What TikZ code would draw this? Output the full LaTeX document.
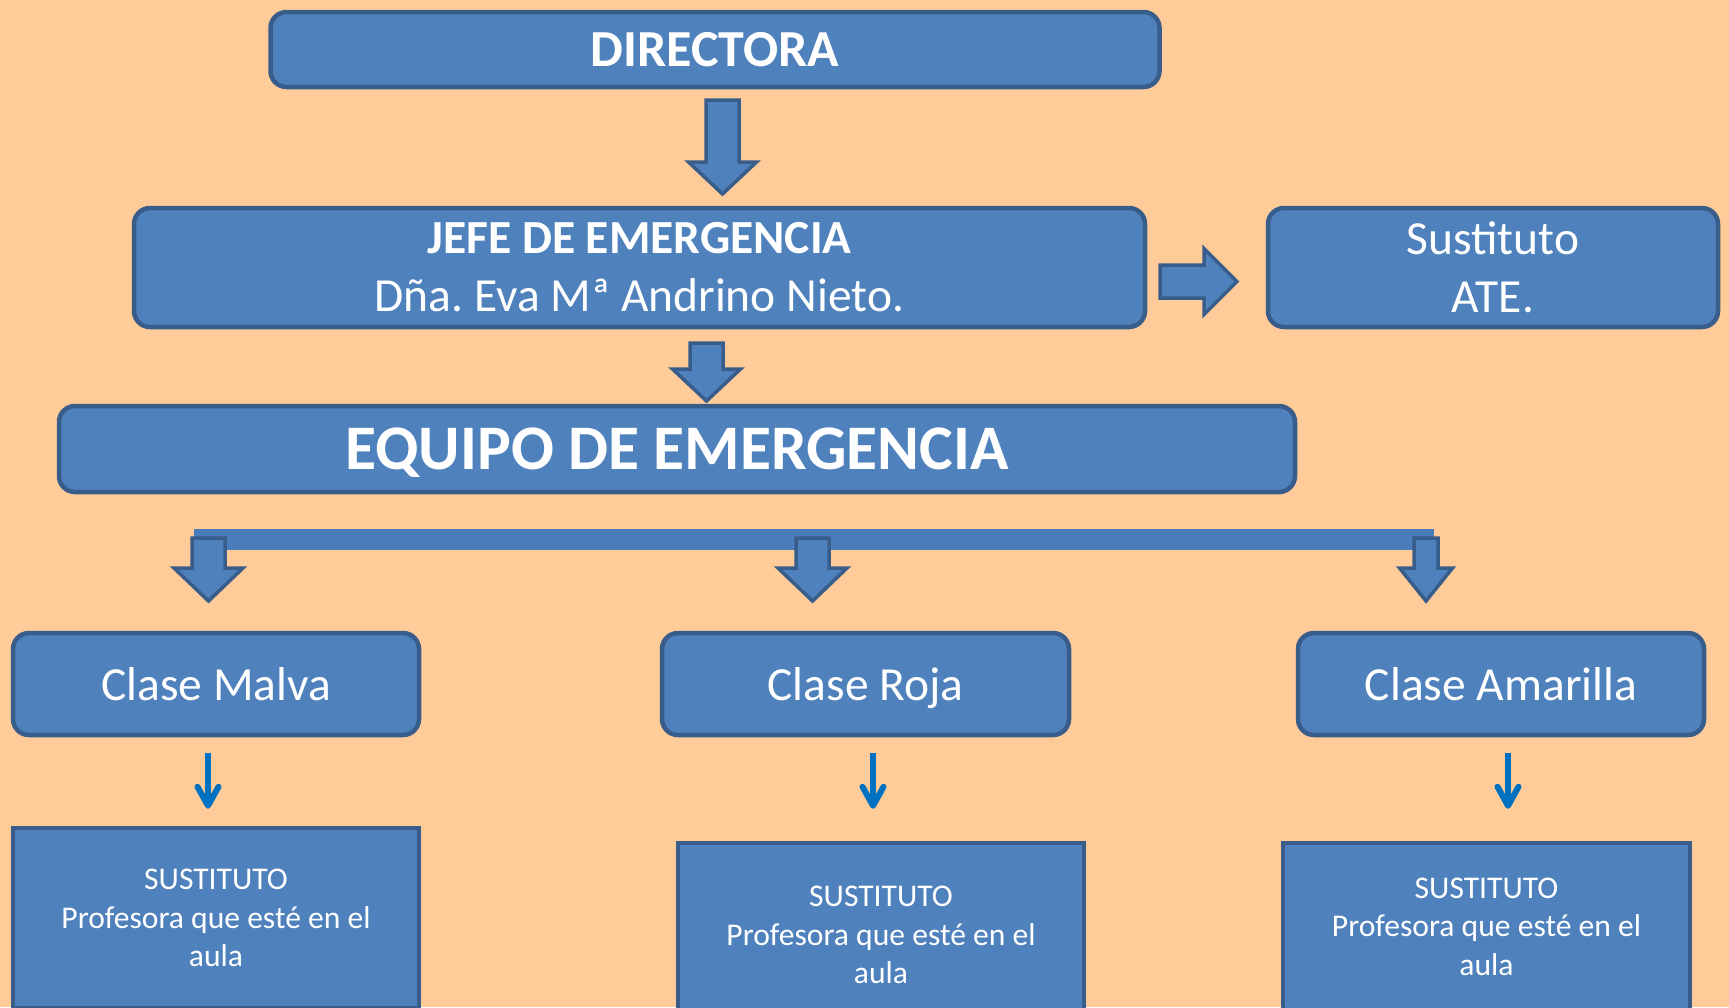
\documentclass[tikz,border=0pt]{standalone}
\usepackage{fontspec}
\setmainfont{Carlito}
\frenchspacing
\usetikzlibrary{calc,arrows.meta}
\definecolor{bgpeach}{HTML}{FFCB98}
\definecolor{boxfill}{HTML}{4F81BD}
\definecolor{boxline}{HTML}{385D8A}
\definecolor{thinblue}{HTML}{0070C0}
\definecolor{barblue}{HTML}{4A7EBB}
% block arrow pointing down: #1 start, #2 tip, #3 shaft half width, #4 head half width, #5 head length
\newcommand\bdarrow[5]{\path[blockarrow] let \p1=#1, \p2=#2 in
  (\x1-#3,\y1) -- (\x1+#3,\y1) -- (\x1+#3,\y2+#5) -- (\x1+#4,\y2+#5) -- (\x1,\y2)
  -- (\x1-#4,\y2+#5) -- (\x1-#3,\y2+#5) -- cycle;}
% block arrow pointing right
\newcommand\brarrow[5]{\path[blockarrow] let \p1=#1, \p2=#2 in
  (\x1,\y1+#3) -- (\x2-#5,\y1+#3) -- (\x2-#5,\y1+#4) -- (\x2,\y1) -- (\x2-#5,\y1-#4)
  -- (\x2-#5,\y1-#3) -- (\x1,\y1-#3) -- cycle;}
\begin{document}
\begin{tikzpicture}[x=1pt,y=-1pt,
  rbox/.style={draw=boxline, fill=boxfill, line width=4.5pt, rounded corners=16pt,
    text=white, align=center, inner sep=0pt},
  sbox/.style={draw=boxline, fill=boxfill, line width=4.5pt, text=white, align=center,
    inner sep=0pt, font=\fontsize{31.6}{38.6}\selectfont},
  midtext/.style={font=\fontsize{47.5}{58}\selectfont},
  blockarrow/.style={draw=boxline, fill=boxfill, line width=3.5pt, line join=miter},
  thinarrow/.style={draw=thinblue, line width=6pt,
    -{Straight Barb[length=19pt,width=21pt,round]}}]
\useasboundingbox (0,0) rectangle (1729,1007);
\clip (0,0) rectangle (1729,1007);
\fill[bgpeach] (0,0) rectangle (1729,1007);

% main boxes
\node[rbox, minimum width=889pt, minimum height=75pt,
  font=\bfseries\fontsize{52}{60}\selectfont] (dir) at (715,49.5) {DIRECTORA};
\node[rbox, midtext, minimum width=1011pt, minimum height=119pt] (jefe) at (639.5,267.5)
  {\textbf{JEFE DE EMERGENCIA}\\Dña. Eva Mª Andrino Nieto.};
\node[rbox, midtext, minimum width=450pt, minimum height=119pt] (sust) at (1493,267.5)
  {Sustituto\\ATE.};
\node[rbox, minimum width=1236pt, minimum height=86pt, text depth=0pt,
  font=\bfseries\fontsize{63.5}{70}\selectfont] (equipo) at (677,449) {EQUIPO DE EMERGENCIA};

\node[rbox, midtext, minimum width=406pt, minimum height=102pt, text depth=0pt] (malva) at (216,684) {Clase Malva};
\node[rbox, midtext, minimum width=407pt, minimum height=102pt, text depth=0pt] (roja) at (865.5,684) {Clase Roja};
\node[rbox, midtext, minimum width=406pt, minimum height=102pt, text depth=0pt] (amar) at (1501,684) {Clase Amarilla};

\node[sbox, minimum width=406pt, minimum height=180pt] (malvasub) at (216,918)
  {SUSTITUTO\\Profesora que esté en el\\aula};
\node[sbox, minimum width=406pt, minimum height=184pt] (rojasub) at (881,935)
  {SUSTITUTO\\Profesora que esté en el\\aula};
\node[sbox, minimum width=407pt, minimum height=167pt] (amarsub) at (1486.5,926.5)
  {SUSTITUTO\\Profesora que esté en el\\aula};

% block arrows
\coordinate (a1s) at (722.5,100);  \coordinate (a1e) at (722.5,194);
\bdarrow{(a1s)}{(a1e)}{16.5}{34}{32}
\coordinate (a2s) at (706.5,343);  \coordinate (a2e) at (706.5,401);
\bdarrow{(a2s)}{(a2e)}{16.5}{34}{32}
\coordinate (a3s) at (1160,281.5); \coordinate (a3e) at (1237,281.5);
\brarrow{(a3s)}{(a3e)}{16.5}{33}{33}

% distribution bar
\coordinate (barl) at (194,529); \coordinate (barr) at (1434,550);
\fill[barblue] (barl) rectangle (barr);

\coordinate (b1s) at (208.5,538); \coordinate (b1e) at (208.5,601);
\bdarrow{(b1s)}{(b1e)}{16.5}{34.5}{33}
\coordinate (b2s) at (812.5,538); \coordinate (b2e) at (812.5,601);
\bdarrow{(b2s)}{(b2e)}{16.5}{34.5}{33}
\coordinate (b3s) at (1426,538); \coordinate (b3e) at (1426,601);
\bdarrow{(b3s)}{(b3e)}{12}{26.5}{33}

% thin arrows
\draw[thinarrow] ([shift={(-8pt,-16pt)}]malva.south) -- ([shift={(-8pt,17pt)}]malvasub.north);
\draw[thinarrow] ([shift={(7.5pt,-16pt)}]roja.south) -- ([shift={(-8pt,32pt)}]rojasub.north);
\draw[thinarrow] ([shift={(7pt,-16pt)}]amar.south) -- ([shift={(21.5pt,32pt)}]amarsub.north);
\end{tikzpicture}
\end{document}
